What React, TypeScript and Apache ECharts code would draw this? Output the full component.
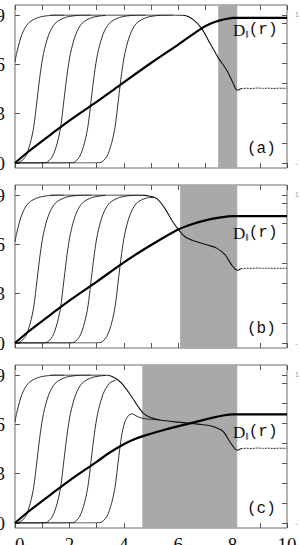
import React, { useEffect, useRef } from "react";
import * as echarts from "echarts";

// ---------- data ----------
const panelNames = ["(a)", "(b)", "(c)"];
const yTicks = [0, 0.3, 0.6, 0.9];
const xTickValues = [0, 2, 4, 6, 8, 10];
const xTickLabels = ["0", "2", "4", "6", "8", "10"];

// shaded band [start, end] in r units for each panel
const bands = [
  [7.47, 8.17],
  [6.07, 8.17],
  [4.68, 8.17],
];

// thin rising curves (shared by the panels)
const curve1 = [[0, 0.615], [0.06, 0.667], [0.25, 0.78], [0.49, 0.85], [0.86, 0.885], [1.35, 0.898], [1.8, 0.9]];
const curve2 = [[0, 0], [0.13, 0.002], [0.38, 0.038], [0.56, 0.12], [0.69, 0.221], [0.81, 0.383], [0.93, 0.545], [1.05, 0.667], [1.24, 0.78], [1.48, 0.85], [1.85, 0.885], [2.34, 0.898], [2.8, 0.9]];
const curve3 = [[0, 0], [0.65, 0], [1.12, 0.002], [1.37, 0.038], [1.55, 0.12], [1.68, 0.221], [1.8, 0.383], [1.92, 0.545], [2.04, 0.667], [2.23, 0.78], [2.47, 0.85], [2.84, 0.885], [3.33, 0.898]];
const curve4 = [[0, 0], [1.65, 0], [2.12, 0.002], [2.37, 0.038], [2.55, 0.12], [2.68, 0.221], [2.8, 0.383], [2.92, 0.545], [3.04, 0.667], [3.23, 0.78], [3.47, 0.85], [3.84, 0.885], [4.33, 0.898], [4.8, 0.9]];
const curve4c = [[0, 0], [1.65, 0], [2.12, 0.002], [2.37, 0.038], [2.55, 0.12], [2.68, 0.221], [2.8, 0.383], [2.92, 0.545], [3.04, 0.667], [3.23, 0.78], [3.47, 0.85], [3.7, 0.868]];
const curve5 = [[0, 0], [2.65, 0], [3.12, 0.002], [3.37, 0.038], [3.55, 0.12], [3.68, 0.221], [3.8, 0.383], [3.92, 0.545], [4.04, 0.667], [4.23, 0.78], [4.47, 0.85], [4.84, 0.885], [5.33, 0.898], [5.8, 0.9]];
const curve5b = [[0, 0], [2.65, 0], [3.12, 0.002], [3.37, 0.038], [3.55, 0.12], [3.68, 0.221], [3.8, 0.383], [3.92, 0.545], [4.04, 0.667], [4.23, 0.78], [4.47, 0.85], [4.84, 0.882], [5.1, 0.885]];
const curve5c = [[0, 0], [2.65, 0], [3.12, 0.002], [3.37, 0.038], [3.55, 0.12], [3.68, 0.221], [3.8, 0.383], [3.92, 0.53], [4.04, 0.615], [4.18, 0.655], [4.3, 0.664], [4.45, 0.652], [4.65, 0.638], [4.9, 0.632], [5.33, 0.626]];

// merged top / falling branch of the thin curves
const dropA = [[1.3, 0.9], [5.8, 0.9], [6.25, 0.897], [6.55, 0.872], [6.86, 0.819], [7.17, 0.728], [7.48, 0.638], [7.78, 0.566], [8.02, 0.485], [8.17, 0.442], [8.3, 0.452]];
const dropB = [[1.3, 0.9], [4.5, 0.9], [4.85, 0.896], [5.21, 0.878], [5.51, 0.819], [5.76, 0.748], [6.0, 0.691], [6.25, 0.646], [6.56, 0.622], [7.05, 0.597], [7.41, 0.577], [7.72, 0.537], [7.97, 0.474], [8.17, 0.442], [8.3, 0.452]];
const dropC = [[1.3, 0.9], [3.3, 0.9], [3.55, 0.893], [3.75, 0.874], [3.98, 0.839], [4.29, 0.768], [4.53, 0.707], [4.72, 0.667], [4.96, 0.643], [5.33, 0.626], [6.07, 0.612], [6.8, 0.6], [7.29, 0.586], [7.66, 0.555], [7.9, 0.494], [8.17, 0.442], [8.3, 0.452]];
const tail = [[8.3, 0.452], [8.5, 0.455], [8.7, 0.453], [8.9, 0.456], [9.1, 0.454], [9.3, 0.455], [9.5, 0.453], [9.7, 0.455], [9.9, 0.454], [10, 0.455]];

// thick D_||(r) curves
const thickA = [[0, 0], [0.5, 0.07], [1.29, 0.17], [2, 0.258], [3, 0.372], [3.86, 0.474], [5, 0.608], [6, 0.72], [6.86, 0.819], [7.2, 0.848], [7.5, 0.866], [7.8, 0.877], [8.05, 0.882], [10, 0.882]];
const thickB = [[0, 0], [0.5, 0.07], [1.29, 0.17], [2, 0.258], [3, 0.372], [3.86, 0.474], [4.6, 0.555], [5.3, 0.625], [6.0, 0.69], [6.5, 0.722], [7.0, 0.746], [7.5, 0.762], [8.0, 0.772], [10, 0.772]];
const thickC = [[0, 0], [0.5, 0.07], [1.29, 0.17], [2, 0.258], [3, 0.372], [3.5, 0.43], [3.9, 0.47], [4.3, 0.503], [4.68, 0.527], [5.5, 0.567], [6.43, 0.606], [7.2, 0.638], [7.7, 0.655], [8.0, 0.661], [10, 0.661]];

const thinSets = [
  [curve1, curve2, curve3, curve4, curve5],
  [curve1, curve2, curve3, curve4, curve5b],
  [curve1, curve2, curve3, curve4c, curve5c],
];
const drops = [dropA, dropB, dropC];
const thicks = [thickA, thickB, thickC];

// ---------- layout ----------
const panelTop = [5, 185, 365];
const FRAME_H = 163;
const DATA_OFF = 10;
const DATA_H = 148;
const LEFT = 15;
const WIDTH = 272;

function xLabel(v: number) {
  const i = xTickValues.findIndex((t) => Math.abs(t - v) < 1e-6);
  return i >= 0 ? xTickLabels[i] : "";
}

function buildOption() {
  const grid: any[] = [];
  const xAxis: any[] = [];
  const yAxis: any[] = [];
  const series: any[] = [];
  const graphic: any[] = [];

  const tickStyle = { show: true, inside: true, length: 5, interval: 0, lineStyle: { color: "#555", width: 1 } };

  for (let p = 0; p < 3; p++) {
    const T = panelTop[p];
    grid.push({ left: LEFT, width: WIDTH, top: T, height: FRAME_H, show: true, borderColor: "#6a6a6a", borderWidth: 1, backgroundColor: "transparent", containLabel: false, outerBoundsMode: "none" });
    grid.push({ left: LEFT, width: WIDTH, top: T + DATA_OFF, height: DATA_H, show: false, containLabel: false, outerBoundsMode: "none" });
    const gF = 2 * p;
    const gD = 2 * p + 1;

    xAxis.push({
      type: "value", gridIndex: gF, position: "bottom", min: 0, max: 10, interval: 1,
      axisLine: { show: false }, splitLine: { show: false }, axisTick: tickStyle,
      axisLabel: {
        show: p === 2, interval: 0, margin: 7, fontSize: 19, fontFamily: "Liberation Serif", color: "#111",
        alignMinLabel: "left", hideOverlap: false,
        formatter: xLabel,
      },
    });
    xAxis.push({
      type: "value", gridIndex: gF, position: "top", min: 0, max: 10, interval: 1,
      axisLine: { show: false }, splitLine: { show: false }, axisTick: tickStyle, axisLabel: { show: false },
    });
    xAxis.push({ type: "value", gridIndex: gD, min: 0, max: 10, show: false });

    yAxis.push({ type: "value", gridIndex: gF, min: 0, max: 1, show: false });
    yAxis.push({
      type: "value", gridIndex: gD, position: "left", min: 0, max: 0.9, interval: 0.3,
      axisLine: { show: false }, splitLine: { show: false }, axisTick: tickStyle,
      axisLabel: { margin: 10, fontSize: 19, fontFamily: "Liberation Serif", color: "#111", formatter: (v: number) => String(yTicks.find((t) => Math.abs(t - v) < 1e-6) ?? "") },
    });
    yAxis.push({
      type: "value", gridIndex: gD, position: "right", min: 0, max: 7.4, interval: 1,
      axisLine: { show: false }, splitLine: { show: false }, axisTick: tickStyle, axisLabel: { show: false },
    });

    const xF = 3 * p, xD = 3 * p + 2;
    const yF = 3 * p, yD = 3 * p + 1;

    series.push({
      type: "line", xAxisIndex: xF, yAxisIndex: yF, data: [[0, -1]], symbol: "none", silent: true, z: 1,
      lineStyle: { opacity: 0 },
      markArea: { silent: true, itemStyle: { color: "#a9a9a9", opacity: 1 }, data: [[{ xAxis: bands[p][0] }, { xAxis: bands[p][1] }]] },
    });

    const thinLine = { color: "#1a1a1a", width: 0.9 };
    thinSets[p].forEach((c) => {
      series.push({ type: "line", xAxisIndex: xD, yAxisIndex: yD, data: c, symbol: "none", smooth: 0.3, lineStyle: thinLine, z: 3 });
    });
    series.push({ type: "line", xAxisIndex: xD, yAxisIndex: yD, data: drops[p], symbol: "none", smooth: 0.3, lineStyle: { color: "#111", width: 1.1 }, z: 3 });
    series.push({ type: "line", xAxisIndex: xD, yAxisIndex: yD, data: tail, symbol: "none", lineStyle: { color: "#333", width: 1, type: [2, 1] }, z: 3 });
    series.push({ type: "line", xAxisIndex: xD, yAxisIndex: yD, data: thicks[p], symbol: "none", smooth: 0.3, lineStyle: { color: "#000", width: 2.2 }, z: 4 });

    // labels
    graphic.push({
      type: "text", x: 233, y: [30, 233, 432][p], z: 10,
      style: {
        text: "{d|D}{s|\u2016}{m|(r)}", verticalAlign: "middle", align: "left", fill: "#111",
        rich: {
          d: { fontFamily: "Liberation Serif", fontSize: 17, fill: "#111" },
          s: { fontFamily: "DejaVu Sans", fontSize: 7, fill: "#111", padding: [7, 0, 0, 0] },
          m: { fontFamily: "Liberation Mono", fontSize: 16, fill: "#111" },
        },
      },
    });
    graphic.push({
      type: "text", x: 247, y: T + 143.5, z: 10,
      style: { text: panelNames[p], fontFamily: "Liberation Mono", fontSize: 16, fill: "#111", verticalAlign: "middle", align: "left" },
    });
    graphic.push({ type: "text", x: 295, y: T + 9, z: 10, style: { text: "1", fontSize: 7, fill: "#999", verticalAlign: "middle" } });
    graphic.push({ type: "text", x: 295, y: T + 158, z: 10, style: { text: "-", fontSize: 8, fill: "#999", verticalAlign: "middle" } });
  }

  return { animation: false, backgroundColor: "#fff", grid, xAxis, yAxis, series, graphic };
}

export default function App() {
  const ref = useRef<HTMLDivElement>(null);
  useEffect(() => {
    if (!ref.current) return;
    const chart = echarts.init(ref.current, null, { renderer: "svg" });
    chart.setOption(buildOption() as any);
    return () => chart.dispose();
  }, []);
  return <div ref={ref} style={{ position: "fixed", left: 0, top: 0, width: 300, height: 545, background: "#fff" }} />;
}
